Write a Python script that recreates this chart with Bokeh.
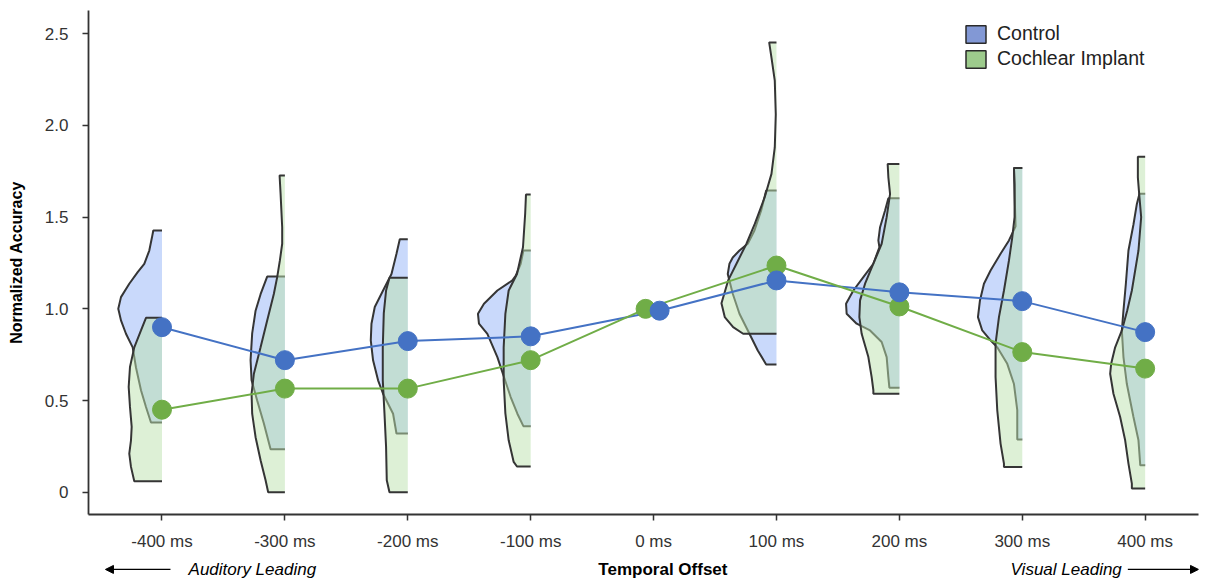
from bokeh.plotting import figure
from bokeh.layouts import column
from bokeh.models import Range1d, FixedTicker, Label, Arrow, NormalHead, Legend, LegendItem
from bokeh.embed import file_html
from bokeh.resources import INLINE

# ---------------- data ----------------
offsets = [-400, -300, -200, -100, 0, 100, 200, 300, 400]
offset_labels = ["-400 ms", "-300 ms", "-200 ms", "-100 ms", "0 ms",
                 "100 ms", "200 ms", "300 ms", "400 ms"]
y_ticks = [0, 0.5, 1.0, 1.5, 2.0, 2.5]
y_tick_labels = ["0", "0.5", "1.0", "1.5", "2.0", "2.5"]

control_mean = [0.90, 0.72, 0.824, 0.85, 0.99, 1.155, 1.09, 1.042, 0.873]
ci_mean = [0.45, 0.565, 0.565, 0.72, 1.0, 1.236, 1.013, 0.764, 0.674]
control_dodge = [0, 0, 0, 0, 4.9, 0, 0, 0, 0]
ci_dodge = [0, 0, 0, 0, -6.5, 0, 0, 0, 0]

# half-violin profiles: accuracy levels (top -> bottom) and densities
control_violin_y = [
    [1.427, 1.39, 1.318, 1.245, 1.2, 1.137, 1.064, 1.0, 0.937, 0.864, 0.79, 0.68, 0.556, 0.465, 0.38],
    [1.176, 1.08, 0.99, 0.866, 0.72, 0.61, 0.5, 0.375, 0.234],
    [1.38, 1.3, 1.19, 1.10, 1.01, 0.919, 0.828, 0.719, 0.61, 0.537, 0.428, 0.32],
    [1.318, 1.245, 1.18, 1.155, 1.10, 1.028, 0.973, 0.919, 0.864, 0.737, 0.628, 0.519, 0.428, 0.36],
    [],
    [1.645, 1.536, 1.427, 1.355, 1.318, 1.28, 1.246, 1.19, 1.082, 0.973, 0.864, 0.773, 0.697],
    [1.603, 1.536, 1.445, 1.373, 1.336, 1.246, 1.173, 1.10, 1.028, 0.973, 0.919, 0.882, 0.819, 0.737, 0.628, 0.57],
    [1.768, 1.6, 1.45, 1.373, 1.30, 1.209, 1.137, 1.046, 0.955, 0.882, 0.828, 0.79, 0.70, 0.59, 0.447, 0.30, 0.287],
    [1.627, 1.572, 1.46, 1.318, 1.137, 0.99, 0.882, 0.737, 0.59, 0.41, 0.283, 0.156, 0.147],
]
control_violin_d = [
    [8.7, 10, 12.7, 17.7, 24.3, 32.7, 41, 43.7, 41, 36, 29.3, 26, 21, 16, 11],
    [17.7, 24.3, 29.3, 32.7, 34.3, 33.3, 27.7, 21, 14.3],
    [8, 11.3, 16.3, 24.7, 33, 36.3, 37, 34.7, 29.7, 24.7, 14.7, 11.3],
    [7.3, 10, 15, 18.3, 33.3, 46.7, 52.7, 51.7, 43.3, 33.3, 26.7, 20, 13.3, 7.3],
    [],
    [10.3, 15.3, 22, 28.7, 37, 43.7, 47, 48.7, 43.7, 37, 27, 18.7, 10.3],
    [11, 14.3, 19.3, 21, 20, 26, 36, 46, 53.3, 52.7, 42.7, 29.3, 17.7, 12.7, 11, 10],
    [8.3, 7.5, 6.7, 13.3, 21.7, 31.7, 38.3, 42.3, 44.3, 40, 31.7, 25, 15, 8.3, 5, 5, 5],
    [5.7, 8.3, 11.7, 16.7, 19.3, 21.7, 23.3, 21.7, 18.3, 11.7, 6.7, 5, 5],
]
ci_violin_y = [
    [0.951, 0.882, 0.79, 0.683, 0.574, 0.465, 0.356, 0.283, 0.211, 0.138, 0.06],
    [1.727, 1.627, 1.445, 1.355, 1.264, 1.173, 1.082, 0.937, 0.79, 0.646, 0.537, 0.428, 0.30, 0.174, 0.065, 0.0],
    [1.17, 1.10, 0.975, 0.79, 0.61, 0.43, 0.247, 0.065, 0.0],
    [1.623, 1.52, 1.336, 1.19, 1.10, 0.973, 0.79, 0.61, 0.43, 0.283, 0.165, 0.14],
    [],
    [2.453, 2.37, 2.244, 2.06, 1.88, 1.736, 1.61, 1.463, 1.355, 1.246, 1.155, 1.03, 0.955, 0.90, 0.864],
    [1.79, 1.717, 1.627, 1.5, 1.355, 1.246, 1.137, 1.046, 0.955, 0.864, 0.737, 0.628, 0.556, 0.537],
    [1.768, 1.68, 1.5, 1.39, 1.264, 1.10, 0.955, 0.81, 0.628, 0.447, 0.265, 0.156, 0.138],
    [1.83, 1.717, 1.627, 1.5, 1.318, 1.10, 0.99, 0.882, 0.79, 0.70, 0.646, 0.537, 0.41, 0.283, 0.156, 0.047, 0.02],
]
ci_violin_d = [
    [16, 21, 27.7, 32, 33.3, 32, 30.3, 31, 32.7, 31, 27.7],
    [5.3, 4.3, 2.7, 2.7, 5, 7.7, 11, 17.7, 24.3, 31, 33.3, 32.7, 29.3, 24.3, 19.3, 16.7],
    [18.3, 21.7, 24, 25, 25, 23.3, 21.7, 21, 18.3],
    [4.7, 5.5, 7.7, 13.7, 22, 25.3, 27, 27, 25.3, 22, 17, 13.7],
    [],
    [7.3, 5, 1.7, 0.7, 1.7, 5, 11.7, 21.7, 30, 40, 48.3, 55, 51.7, 43.3, 33.3],
    [11.7, 11, 9.3, 12.7, 17.7, 26, 34.3, 39.3, 40, 37.7, 31, 27.7, 26, 26],
    [8.3, 7.7, 7.7, 10, 13.3, 18.3, 23.3, 26.7, 26.7, 25, 21.7, 18.3, 18.3],
    [7.3, 7.3, 6, 4, 6.7, 13.3, 18, 23.3, 30, 34, 35, 31.7, 25, 20, 16.7, 13.3, 13.3],
]

x_title = "Temporal Offset"
left_hint = "Auditory Leading"
right_hint = "Visual Leading"

# ---------------- styles ----------------
DENSITY_SCALE = 0.814          # density units -> ms on the x axis
FONT = "Liberation Sans"
BLUE = "#4472C4"
GREEN = "#70AD47"
OUTLINE = "#353535"
NAN = float("nan")
X_LO, X_HI = -459.8, 443.4


def violin_shapes(centers, levels, dens):
    xs, ys_out = [], []
    for c, ys, ds in zip(centers, levels, dens):
        if not ys:
            continue
        left = [c - d * DENSITY_SCALE for d in ds]
        xs.append([c] + left + [c])
        ys_out.append([ys[0]] + ys + [ys[-1]])
    return xs, ys_out


p = figure(width=1207, height=553, output_backend="svg", toolbar_location=None,
           x_range=Range1d(X_LO, X_HI), y_range=Range1d(-0.1216, 2.627),
           min_border_left=88, min_border_right=9, min_border_top=10, min_border_bottom=39)
p.outline_line_color = None
p.xgrid.visible = False
p.ygrid.visible = False
p.background_fill_color = "white"
p.border_fill_color = "white"

# violins: control first, cochlear implant on top (semi-transparent)
vx, vy = violin_shapes(offsets, control_violin_y, control_violin_d)
p.patches(xs=vx, ys=vy, fill_color="#c9d9fb", fill_alpha=1.0, line_color=None)
p.multi_line(xs=vx, ys=vy, line_color=OUTLINE, line_width=2)

vx, vy = violin_shapes(offsets, ci_violin_y, ci_violin_d)
p.patches(xs=vx, ys=vy, fill_color="#bbe1ad", fill_alpha=0.5, line_color=None)
p.multi_line(xs=vx, ys=vy, line_color=OUTLINE, line_width=2)

# mean lines and points
ctrl_x = [o + d for o, d in zip(offsets, control_dodge)]
ci_x = [o + d for o, d in zip(offsets, ci_dodge)]
p.line(x=ctrl_x, y=control_mean, line_color=BLUE, line_width=2)
p.line(x=ci_x, y=ci_mean, line_color=GREEN, line_width=2)
p.scatter(x=ci_x, y=ci_mean, size=19, fill_color=GREEN, line_color=GREEN)
p.scatter(x=ctrl_x, y=control_mean, size=19, fill_color=BLUE, line_color=BLUE)

# axes
for ax in (p.xaxis[0], p.yaxis[0]):
    ax.axis_line_color = "#333333"
    ax.axis_line_width = 1.8
    ax.major_tick_line_color = "#333333"
    ax.major_tick_line_width = 1.5
    ax.major_tick_out = 6
    ax.major_tick_in = 0
    ax.minor_tick_line_color = None
    ax.major_label_text_font = FONT
    ax.major_label_text_font_size = "17px"
    ax.major_label_text_color = "#333333"
    ax.axis_label_text_font = FONT
    ax.axis_label_text_font_size = "16px"
    ax.axis_label_text_font_style = "bold"
    ax.axis_label_text_color = "#000000"

p.xaxis.ticker = FixedTicker(ticks=offsets)
p.xaxis.major_label_overrides = dict(zip(offsets, offset_labels))
p.xaxis.major_label_standoff = 11

p.yaxis.ticker = FixedTicker(ticks=y_ticks)
p.yaxis.major_label_overrides = dict(zip(y_ticks, y_tick_labels))
p.yaxis.axis_label = "Normalized Accuracy"
p.yaxis.major_label_standoff = 14
p.yaxis.axis_label_standoff = 17

# legend (swatches only; no visible data)
leg_ctrl = p.quad(left=[NAN], right=[NAN], top=[NAN], bottom=[NAN], fill_color="#8298d5",
                  line_color="#2a2a2a", line_width=1.5)
leg_ci = p.quad(left=[NAN], right=[NAN], top=[NAN], bottom=[NAN], fill_color="#9dcb8c",
                line_color="#2a2a2a", line_width=1.5)
legend = Legend(items=[LegendItem(label="Control", renderers=[leg_ctrl]),
                       LegendItem(label="Cochlear Implant", renderers=[leg_ci])],
                location="top_right", margin=12, padding=10, spacing=2,
                glyph_width=25, glyph_height=22, label_standoff=9, label_width=189,
                label_height=20, border_line_color=None, background_fill_alpha=0,
                label_text_font=FONT, label_text_font_size="19.5px", label_text_color="#222222")
p.add_layout(legend)

# ---------------- strip under the axis: title and direction hints ----------------
q = figure(width=1207, height=27, output_backend="svg", toolbar_location=None,
           x_range=Range1d(X_LO, X_HI), y_range=Range1d(0, 1),
           min_border_left=88, min_border_right=9, min_border_top=0, min_border_bottom=0,
           x_axis_location=None, y_axis_location=None)
q.outline_line_color = None
q.xgrid.visible = False
q.ygrid.visible = False
q.background_fill_color = "white"
q.border_fill_color = "white"

hint_y = 0.41
q.add_layout(Label(x=7.6, y=hint_y, text=x_title, text_align="center",
                   text_baseline="middle", text_font=FONT, text_font_size="17px",
                   text_font_style="bold", text_color="#000000"))
q.add_layout(Arrow(x_start=-393.1, y_start=hint_y, x_end=-446.0, y_end=hint_y,
                   line_color="black", line_width=1.3,
                   end=NormalHead(size=8, fill_color="black", line_color="black")))
q.add_layout(Label(x=-378.4, y=hint_y, text=left_hint, text_align="left",
                   text_baseline="middle", text_font=FONT, text_font_size="17px",
                   text_font_style="italic", text_color="#000000"))
q.add_layout(Arrow(x_start=385.9, y_start=hint_y, x_end=443.4, y_end=hint_y,
                   line_color="black", line_width=1.3,
                   end=NormalHead(size=8, fill_color="black", line_color="black")))
q.add_layout(Label(x=381.0, y=hint_y, text=right_hint, text_align="right",
                   text_baseline="middle", text_font=FONT, text_font_size="17px",
                   text_font_style="italic", text_color="#000000"))

layout = column(p, q, spacing=0)
open("out.html", "w").write(file_html(layout, INLINE))
